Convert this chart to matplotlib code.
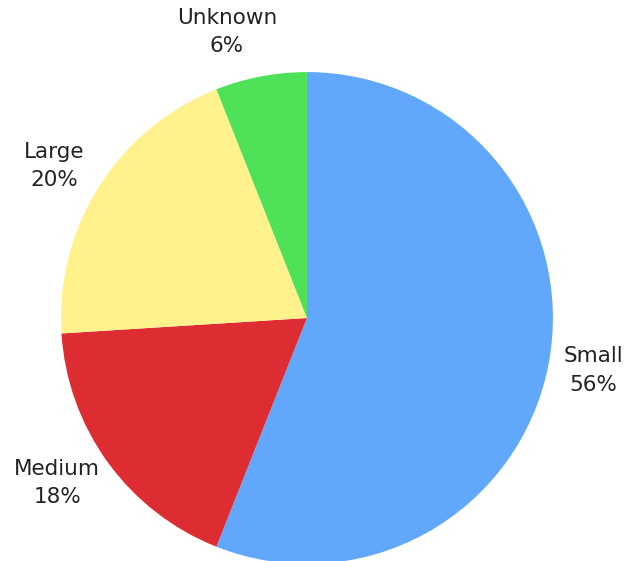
import matplotlib
matplotlib.use("Agg")
import matplotlib.pyplot as plt

categories = ["Small", "Medium", "Large", "Unknown"]
values = [56, 18, 20, 6]
colors = ["#61a8fd", "#dd2d33", "#fff18b", "#4fe259"]

# label centres (data units, pie radius = 1)
label_pos = [(1.163, -0.215), (-1.016, -0.671), (-1.028, 0.618), (-0.325, 1.163)]

fig = plt.figure(figsize=(6.24, 5.61), dpi=100)
ax = fig.add_axes([0, 0, 1, 1])
labels = [f"{c}\n{v}%" for c, v in zip(categories, values)]
wedges, texts = ax.pie(values, colors=colors, labels=labels, startangle=90,
                       counterclock=False, labeldistance=1.2,
                       wedgeprops=dict(linewidth=0),
                       textprops=dict(fontsize=15.5, color="#222222",
                                      family="DejaVu Sans", linespacing=1.55))
for t, p in zip(texts, label_pos):
    t.set_ha("center")
    t.set_va("center")
    t.set_position(p)
ax.set_aspect("auto")
ax.set_xlim(-1.248, 1.289)
ax.set_ylim(-0.988, 1.293)
ax.axis("off")
fig.savefig("out.png", dpi=100)
